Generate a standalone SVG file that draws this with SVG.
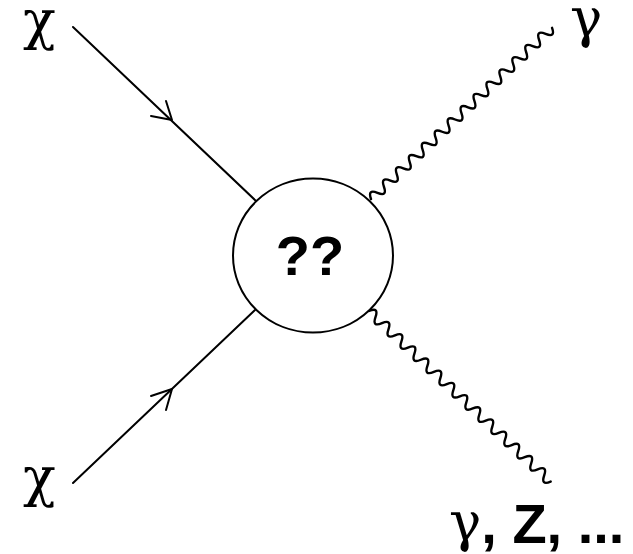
<svg xmlns="http://www.w3.org/2000/svg" xmlns:xlink="http://www.w3.org/1999/xlink" width="633" height="554" viewBox="0 0 633 554">
<style>
.ln{fill:none;stroke:#000;stroke-width:2;stroke-linecap:round;stroke-linejoin:round}
.wv{fill:none;stroke:#000;stroke-width:2.4;stroke-linecap:round;stroke-linejoin:round}
.gr{font-family:"DejaVu Serif",serif;font-size:54px;fill:#000}
.sb{font-family:"Liberation Sans",Arial,sans-serif;font-weight:bold;font-size:56px;fill:#000}
</style>
<defs>
<path id="wave" d="M0,0 q4.45,-10 8.9,0 t8.9,0 t8.9,0 t8.9,0 t8.9,0 t8.9,0 t8.9,0 t8.9,0 t8.9,0 t8.9,0 t8.9,0 t8.9,0 t8.9,0 t8.9,0 t8.9,0 t8.9,0 t8.9,0 t8.9,0 t8.9,0 t8.9,0 t8.9,0 t8.9,0 t8.9,0 t8.9,0 t8.9,0 t8.9,0 t8.9,0 t8.9,0"/>
</defs>
<g id="connectors">
<line class="ln" x1="73" y1="27" x2="256" y2="201"/>
<polyline class="ln" points="151,116 172,120 166,101"/>
<line class="ln" x1="73" y1="483" x2="255" y2="310"/>
<polyline class="ln" points="151,396 172,389 166,410"/>
<use class="wv" xlink:href="#wave" href="#wave" transform="translate(371,199) rotate(-43.4)"/>
<use class="wv" xlink:href="#wave" href="#wave" transform="translate(369,311) rotate(43.2)"/>
</g>
<g id="blob">
<ellipse class="ln" cx="313" cy="255.5" rx="80" ry="77" fill="#fff"/>
<text class="sb" x="310" y="275" text-anchor="middle">??</text>
</g>
<g id="chi-top"><text class="gr" x="23" y="39">χ</text></g>
<g id="chi-bottom"><text class="gr" x="23" y="496">χ</text></g>
<g id="gamma-top"><text class="gr" x="570" y="37">γ</text></g>
<g id="final-state"><text><tspan class="gr" x="449" y="541">γ</tspan><tspan class="sb" y="543">, Z, ...</tspan></text></g>
</svg>
